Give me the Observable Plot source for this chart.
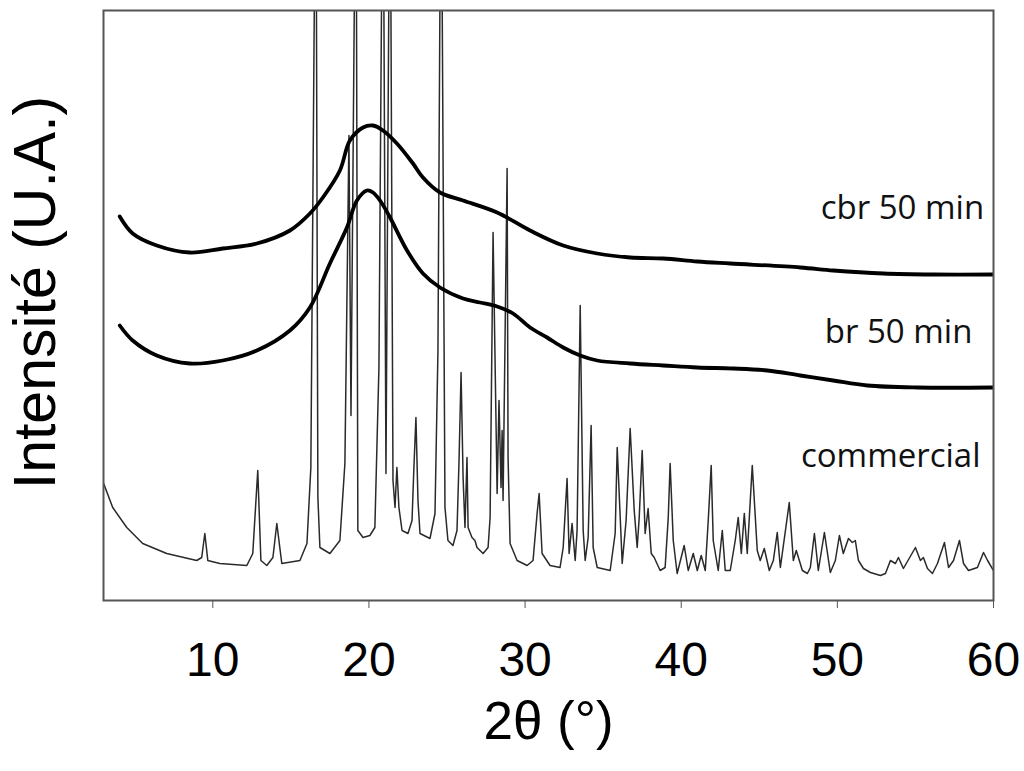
<!DOCTYPE html>
<html>
<head>
<meta charset="utf-8">
<script src="https://cdn.jsdelivr.net/npm/d3@7"></script>
<script src="https://cdn.jsdelivr.net/npm/@observablehq/plot@0.6"></script>
<style>
  html, body { margin: 0; padding: 0; background: #fff; overflow: hidden; }
</style>
</head>
<body>
<div id="chart"></div>
<script>
// 2θ (degrees), intensity (arbitrary units)
const cbr50 = [
  [4.04,384],[4.87,367],[6.41,355],[8.53,348],[10.64,352],[12.82,357],[14.94,370],[16.22,387],
  [17.05,403],[18.14,430],[18.78,460],[19.62,473],[20.26,475],[20.90,470],[21.79,457],[22.82,437],
  [23.46,423],[24.55,408],[26.03,400],[28.21,388],[30.32,370],[32.44,355],[34.62,347],[36.73,343],
  [38.85,342],[41.03,339],[43.14,337],[47.63,333],[49.74,330],[52.95,327],[56.15,326],[60,326]
];
const br50 = [
  [4.04,275],[4.87,260],[6.41,245],[8.53,237],[10.64,240],[12.82,250],[14.94,270],[16.22,293],
  [17.50,337],[18.59,373],[19.23,400],[19.87,410],[20.26,408],[20.71,400],[21.35,383],[22.44,350],
  [23.46,327],[24.55,313],[26.03,302],[27.12,298],[28.21,294],[29.23,287],[30.32,273],[31.41,263],
  [32.44,253],[33.53,245],[34.62,240],[36.73,237],[38.85,235],[41.03,233],[43.33,232],[45.51,230],
  [47.63,225],[49.74,220],[51.92,215],[55.13,213],[60,213]
];
const commercial = [
  [3.01,117],[3.59,93],[4.49,73],[5.51,57],[7.05,47],[8.97,40],[9.29,43],[9.49,67],[9.68,40],
  [10.45,37],[12.18,35],[12.56,47],[12.88,130],[13.08,40],[13.46,35],[13.85,43],[14.10,77],[14.42,37],
  [15.58,40],[16.03,57],[16.28,133],[16.60,800],[16.73,103],[16.86,53],[17.50,47],[18.14,60],
  [18.46,137],[18.72,465],[18.85,185],[19.17,800],[19.29,70],[19.62,63],[20.06,65],[20.38,73],
  [20.64,233],[20.90,800],[21.09,127],[21.35,800],[21.54,120],[21.67,93],[21.79,133],[21.92,93],
  [22.12,70],[22.50,67],[22.76,80],[22.88,133],[23.01,183],[23.14,100],[23.27,67],[23.91,62],
  [24.23,87],[24.42,250],[24.62,800],[24.87,93],[25.06,60],[25.38,55],[25.64,70],[25.77,140],
  [25.90,228],[26.03,123],[26.15,73],[26.28,143],[26.35,73],[26.60,63],[26.79,60],[26.92,53],
  [27.31,47],[27.63,53],[27.76,83],[27.95,368],[28.21,107],[28.33,200],[28.46,113],[28.53,170],
  [28.59,100],[28.85,432],[28.91,143],[29.04,57],[29.49,40],[30.13,35],[30.51,40],[30.77,87],
  [30.90,107],[31.09,47],[31.60,35],[32.24,33],[32.44,53],[32.69,122],[32.82,47],[33.01,77],
  [33.21,40],[33.33,70],[33.53,295],[33.72,70],[33.85,40],[34.04,63],[34.23,175],[34.36,53],
  [34.62,33],[35.45,30],[35.77,67],[35.90,153],[36.22,37],[36.47,80],[36.73,172],[36.99,90],
  [37.18,53],[37.31,83],[37.50,150],[37.69,67],[37.88,92],[38.08,47],[38.27,43],[38.65,30],
  [38.97,33],[39.17,83],[39.29,137],[39.49,60],[39.74,27],[40.19,55],[40.45,30],[40.77,47],
  [41.03,30],[41.28,45],[41.54,30],[41.73,80],[41.92,135],[42.05,60],[42.37,30],[42.63,70],
  [42.82,30],[43.14,30],[43.46,60],[43.65,83],[43.85,47],[44.04,87],[44.23,47],[44.55,135],
  [44.87,50],[45.06,40],[45.32,52],[45.64,30],[45.90,40],[46.15,68],[46.35,33],[46.92,98],
  [47.18,40],[47.37,50],[47.76,30],[48.08,27],[48.27,33],[48.53,67],[48.78,30],[49.17,68],
  [49.55,28],[49.87,40],[50.13,65],[50.38,47],[50.71,62],[50.96,58],[51.15,60],[51.35,40],
  [51.67,32],[52.12,28],[52.76,25],[53.08,27],[53.40,40],[53.72,37],[53.91,43],[54.23,32],
  [55.00,53],[55.32,40],[55.51,43],[55.77,32],[56.09,27],[56.41,37],[56.86,58],[57.12,33],
  [57.44,40],[57.82,60],[58.08,37],[58.40,30],[58.97,33],[59.36,48],[59.62,40],[60.00,30]
];
const seriesNames = ["cbr 50 min", "br 50 min", "commercial"];
const labelX = [59.4, 58.65, 59.17];
const labelY = [382, 258, 134];
const xTicks = [10, 20, 30, 40, 50, 60];
const xLabel = "2θ (°)";
const yLabel = "Intensité (U.A.)";
// position of the rotated y-axis title, in data units
const yLabelPos = {x: -1.3, y: 308};

const toRows = (arr, name) => arr.map(([x, y]) => ({x, y, name}));
const labels = seriesNames.map((name, i) => ({name, x: labelX[i], y: labelY[i]}));

const chart = Plot.plot({
  width: 1024,
  height: 771,
  marginLeft: 103,
  marginRight: 31,
  marginTop: 10,
  marginBottom: 171,
  style: {fontFamily: "'Liberation Sans', Arial, sans-serif", background: "#fff", color: "#000"},
  x: {domain: [3, 60]},
  y: {domain: [0, 590], axis: null},
  marks: [
    Plot.line(toRows(commercial, "commercial"), {x: "x", y: "y", stroke: "#2a2a2a", strokeWidth: 1.5, strokeLinejoin: "round", clip: true}),
    Plot.line(toRows(br50, "br 50 min"), {x: "x", y: "y", stroke: "#000", strokeWidth: 3.8, curve: "catmull-rom", clip: true}),
    Plot.line(toRows(cbr50, "cbr 50 min"), {x: "x", y: "y", stroke: "#000", strokeWidth: 3.8, curve: "catmull-rom", clip: true}),
    Plot.frame({stroke: "#555", strokeWidth: 2}),
    Plot.axisX({ticks: xTicks, tickSize: 8, tickPadding: 33, fontSize: 48, label: null, stroke: "#555", fill: "#000"}),
    Plot.text(labels, {x: "x", y: "y", text: "name", textAnchor: "end", lineAnchor: "bottom",
      fontFamily: "'Open Sans', sans-serif", fontSize: 33, fill: "#111"}),
    Plot.text([xLabel], {frameAnchor: "bottom", dy: 138, lineAnchor: "bottom", fontSize: 53, fill: "#000"}),
    Plot.text([yLabelPos], {x: "x", y: "y", text: () => yLabel, rotate: -90, textAnchor: "middle", lineAnchor: "middle", fontSize: 59, fill: "#000"})
  ]
});
document.getElementById("chart").appendChild(chart);
</script>
</body>
</html>
